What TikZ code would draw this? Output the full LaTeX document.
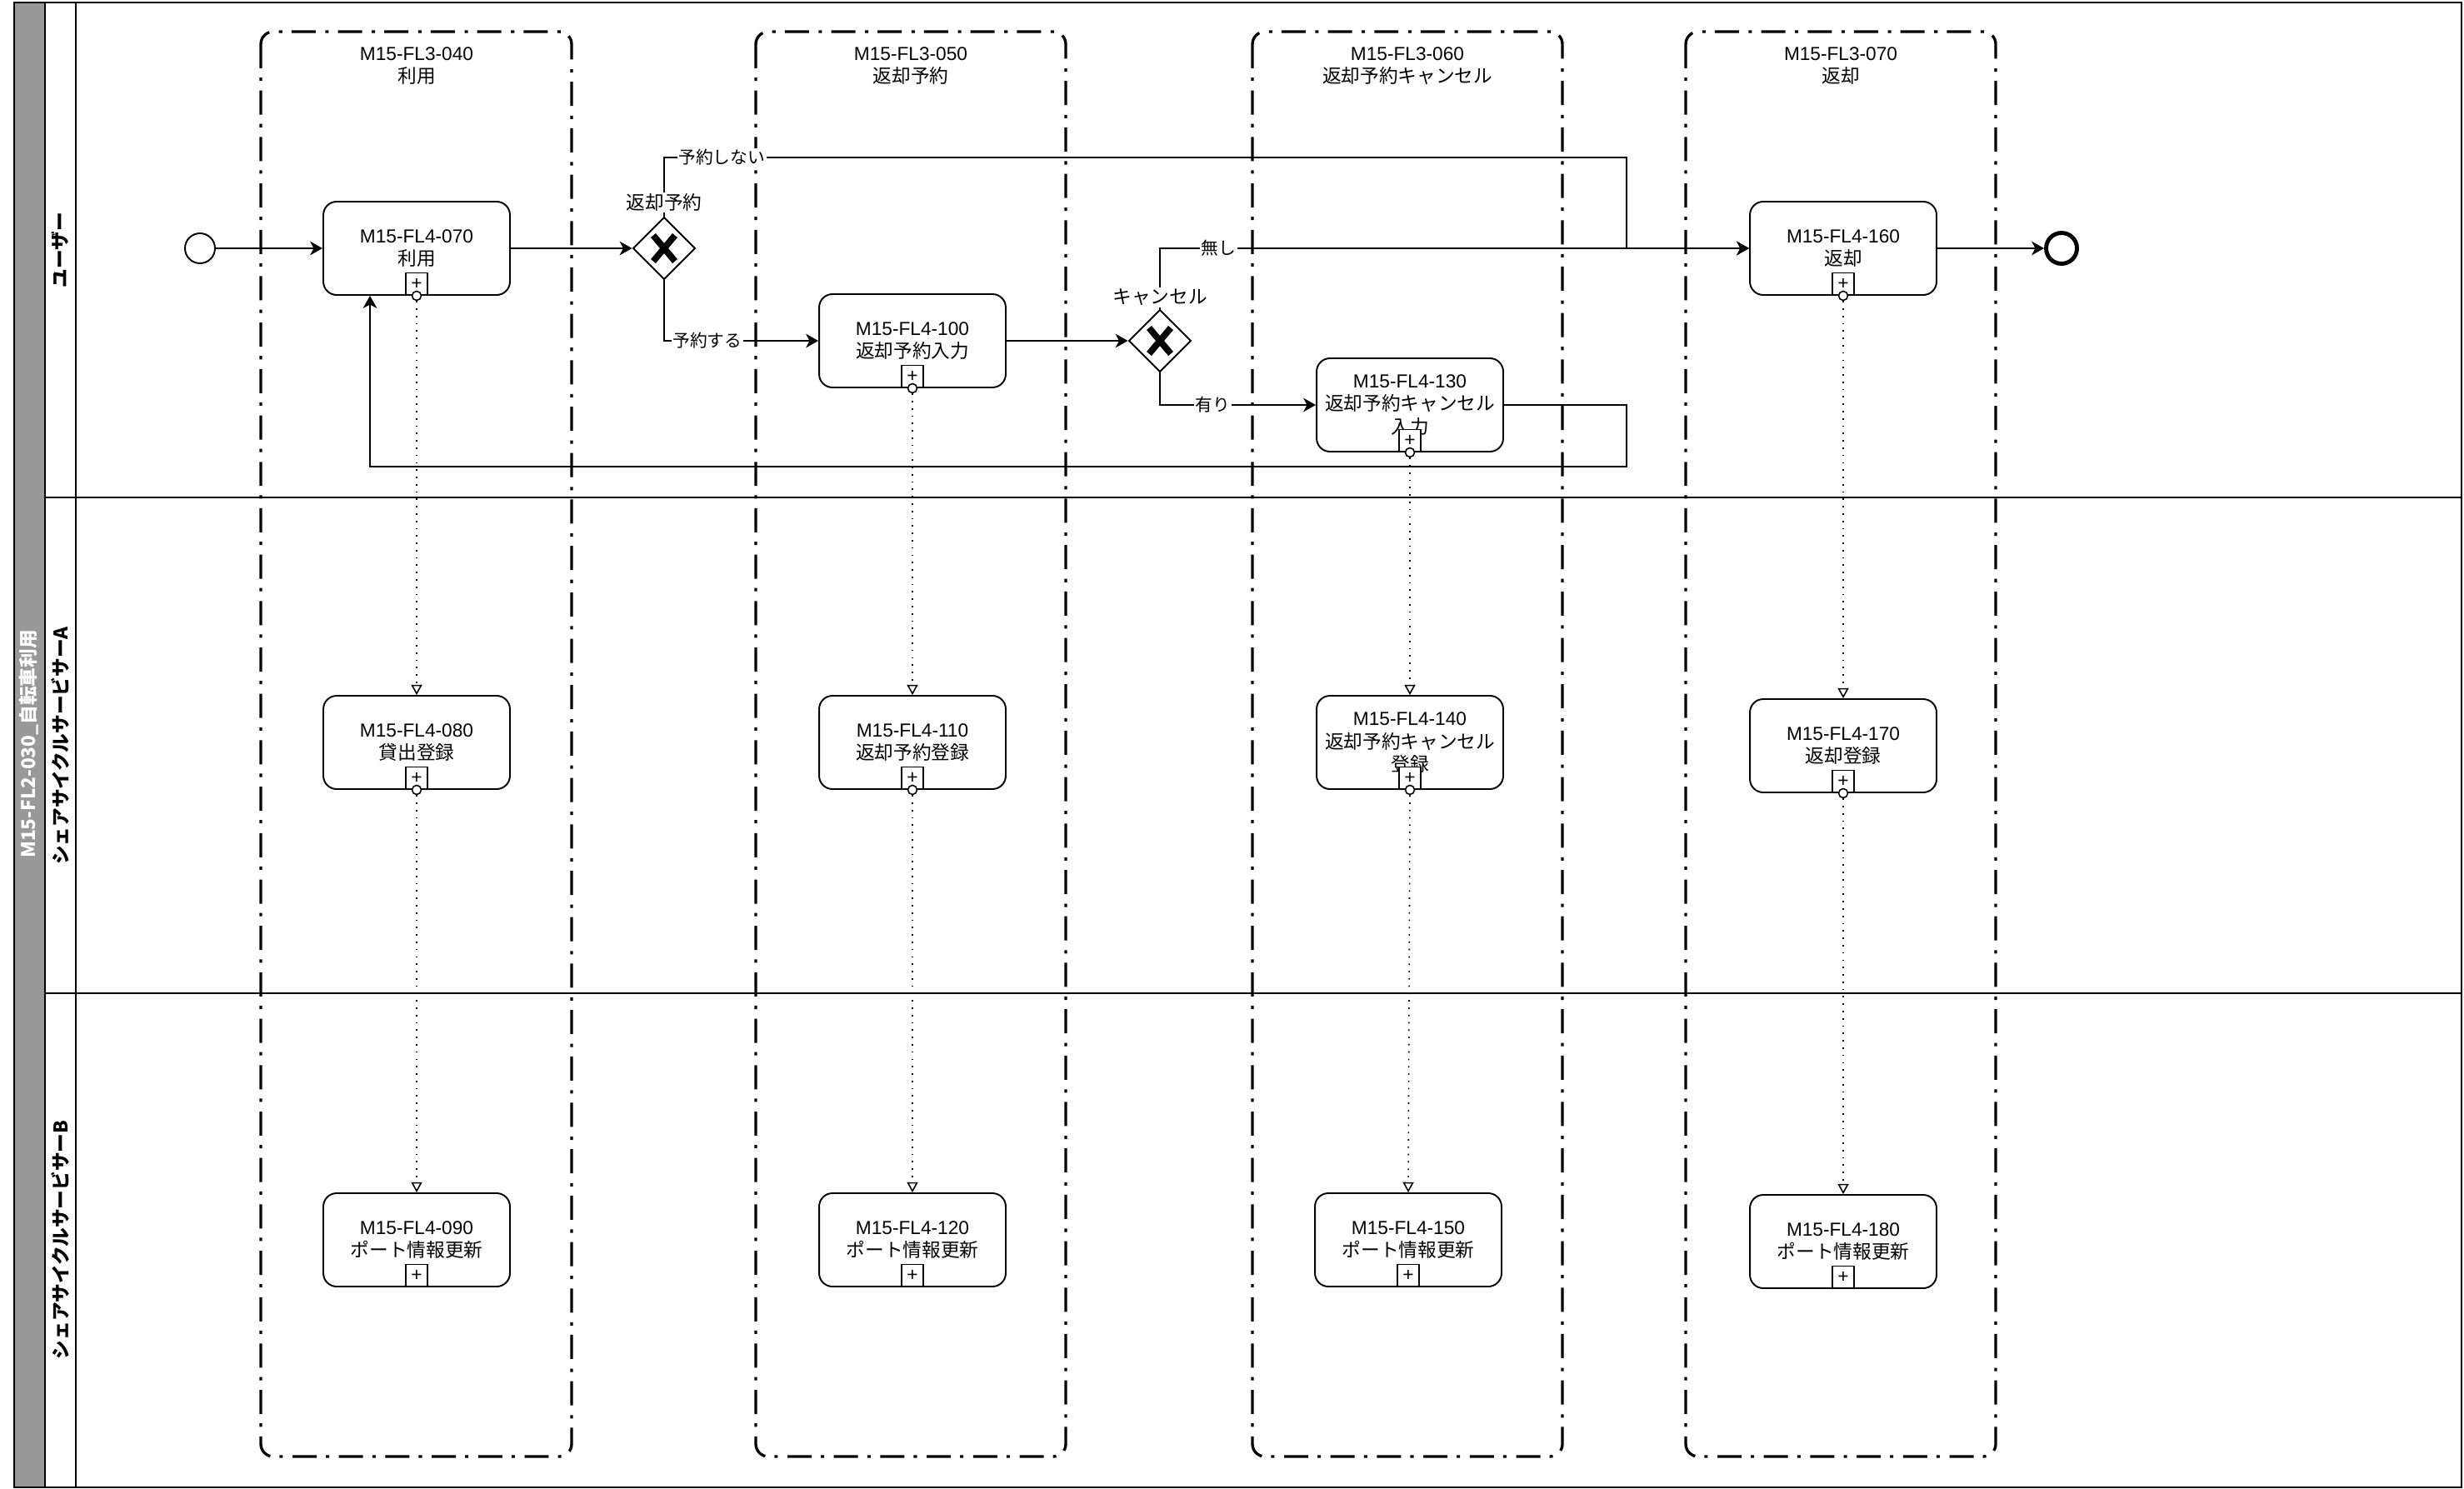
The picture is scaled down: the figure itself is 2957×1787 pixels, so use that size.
\documentclass[tikz,border=0pt]{standalone}
\usepackage{fontspec}
\setmainfont{Liberation Sans}
\newfontfamily\jp{Noto Sans CJK JP}
\usepackage{xcolor}
\definecolor{pool-gray}{HTML}{999999}
\usetikzlibrary{shapes.geometric,arrows.meta}

\tikzset{
  lanebox/.style={line width=1.1pt},
  group/.style={line width=1.9pt, rounded corners=0.3cm,
    dash pattern=on 16.5pt off 6.3pt on 2.3pt off 6.6pt},
  grouptitle/.style={align=center, inner sep=0pt,
    font=\fontsize{12.9}{15}\selectfont},
  task/.style={draw, fill=white, line width=1.1pt, rounded corners=0.32cm,
    minimum width=4.48cm, minimum height=2.24cm, inner sep=0pt,
    align=center, font=\fontsize{12.9}{15.4}\selectfont},
  marker/.style={draw, fill=white, line width=0.9pt, minimum size=0.53cm,
    inner sep=0pt, anchor=south, font=\fontsize{12.9}{12.9}\selectfont},
  port/.style={circle, draw, fill=white, line width=0.9pt,
    minimum size=0.22cm, inner sep=0pt},
  startev/.style={circle, draw, fill=white, line width=1.1pt,
    minimum size=0.72cm, inner sep=0pt},
  endev/.style={circle, draw, fill=white, line width=2.8pt,
    minimum size=0.74cm, inner sep=0pt},
  gateway/.style={diamond, draw, fill=white, line width=1.1pt,
    minimum width=1.5cm, minimum height=1.5cm, inner sep=0pt,
    path picture={
      \draw[line width=4.4pt]
        ([shift={(-0.26cm,-0.31cm)}]path picture bounding box.center) --
        ([shift={(0.26cm,0.31cm)}]path picture bounding box.center);
      \draw[line width=4.4pt]
        ([shift={(-0.26cm,0.31cm)}]path picture bounding box.center) --
        ([shift={(0.26cm,-0.31cm)}]path picture bounding box.center);
    }},
  gwlabel/.style={fill=white, inner sep=1pt,
    font=\jp\fontsize{12.9}{15}\selectfont},
  elabel/.style={fill=white, inner sep=1pt,
    font=\jp\fontsize{11.8}{14}\selectfont},
  lanelabel/.style={rotate=90, inner sep=0pt,
    font=\bfseries\jp\fontsize{12.9}{15}\selectfont},
  flow/.style={line width=1.1pt,
    -{Stealth[length=8.5pt,width=9.5pt,inset=2.5pt]}},
  msg/.style={line width=0.9pt, dash pattern=on 1pt off 4pt,
    -{Triangle[open,length=7pt,width=7.5pt,line width=0.9pt]}},
}

\begin{document}
\begin{tikzpicture}[x=0.02cm, y=-0.02cm]

\useasboundingbox (0,0) rectangle (2957,1787);

% Pool and lanes
\draw[lanebox] (17,3) rectangle (2954,1785);
\filldraw[lanebox, fill=pool-gray] (17,3) rectangle (54,1785);
\draw[lanebox] (91,3) -- (91,1785);
\draw[lanebox] (54,597) -- (2954,597);
\draw[lanebox] (54,1192) -- (2954,1192);

\node[lanelabel, text=white] (pool) at (35,893) {M15-FL2-030\_{\jp 自転車利用}};
\node[lanelabel] (lane1) at (72,300) {ユーザー};
\node[lanelabel] (lane2) at (72,895) {シェアサイクルサービサーA};
\node[lanelabel] (lane3) at (72,1488) {シェアサイクルサービサーB};

% Sub-process groups
\draw[group] (313,38) rectangle (686,1748);
\draw[group] (907,38) rectangle (1279,1748);
\draw[group] (1503,38) rectangle (1875,1748);
\draw[group] (2023,38) rectangle (2395,1748);

\node[grouptitle] (g040) at (500,79) {M15-FL3-040\\{\jp 利用}};
\node[grouptitle] (g050) at (1093,79) {M15-FL3-050\\{\jp 返却予約}};
\node[grouptitle] (g060) at (1689,79) {M15-FL3-060\\{\jp 返却予約キャンセル}};
\node[grouptitle] (g070) at (2209,79) {M15-FL3-070\\{\jp 返却}};

% Events and gateways
\node[startev] (start) at (240,298) {};
\node[endev] (end) at (2474,298) {};
\node[gateway] (gw1) at (797,298) {};
\node[gateway] (gw2) at (1392,409) {};

% Tasks
\node[task] (t070) at (500,298) {M15-FL4-070\\{\jp 利用}};
\node[task] (t080) at (500,891) {M15-FL4-080\\{\jp 貸出登録}};
\node[task] (t090) at (500,1488) {M15-FL4-090\\{\jp ポート情報更新}};
\node[task] (t100) at (1095,409) {M15-FL4-100\\{\jp 返却予約入力}};
\node[task] (t110) at (1095,891) {M15-FL4-110\\{\jp 返却予約登録}};
\node[task] (t120) at (1095,1488) {M15-FL4-120\\{\jp ポート情報更新}};
\node[task] (t130) at (1692,486) {M15-FL4-130\\{\jp 返却予約キャンセル}\\{\jp 入力}};
\node[task] (t140) at (1692,891) {M15-FL4-140\\{\jp 返却予約キャンセル}\\{\jp 登録}};
\node[task] (t150) at (1690,1488) {M15-FL4-150\\{\jp ポート情報更新}};
\node[task] (t160) at (2212,298) {M15-FL4-160\\{\jp 返却}};
\node[task] (t170) at (2212,895) {M15-FL4-170\\{\jp 返却登録}};
\node[task] (t180) at (2212,1490) {M15-FL4-180\\{\jp ポート情報更新}};

% Collapsed markers
\foreach \t in {t070,t080,t090,t100,t110,t120,t130,t140,t150,t160,t170,t180}
  \node[marker] (m\t) at (\t.south) {+};

% Ports
\foreach \t in {t070,t080,t100,t110,t130,t140,t160,t170}
  \node[port] (p\t) at (\t.south) {};

% Sequence flows
\coordinate (c1) at (1952,189);
\coordinate (c2) at (1952,560);
\coordinate (c3) at (444,560);

\draw[flow] (start) -- (t070);
\draw[flow] (t070) -- (gw1);
\draw[flow] (gw1.north) |- node[elabel, pos=0.53] {予約しない} (c1) |- (t160.west);
\draw[flow] (gw1.south) |- node[elabel, pos=0.64] {予約する} (t100.west);
\draw[flow] (t100) -- (gw2);
\draw[flow] (gw2.north) |- node[elabel, pos=0.55] {無し} (t160.west);
\draw[flow] (gw2.south) |- node[elabel, pos=0.67] {有り} (t130.west);
\draw[flow] (t130.east) -| (c2) -- (c3) -- (c3 |- t070.south);
\draw[flow] (t160) -- (end);

\node[gwlabel] (lgw1) at (797,243) {返却予約};
\node[gwlabel] (lgw2) at (1392,357) {キャンセル};

% Message flows
\draw[msg] (pt070.south) -- (t080.north);
\draw[msg] (pt080.south) -- (t090.north);
\draw[msg] (pt100.south) -- (t110.north);
\draw[msg] (pt110.south) -- (t120.north);
\draw[msg] (pt130.south) -- (t140.north);
\draw[msg] (pt140.south) -- (t150.north);
\draw[msg] (pt160.south) -- (t170.north);
\draw[msg] (pt170.south) -- (t180.north);

\end{tikzpicture}
\end{document}
